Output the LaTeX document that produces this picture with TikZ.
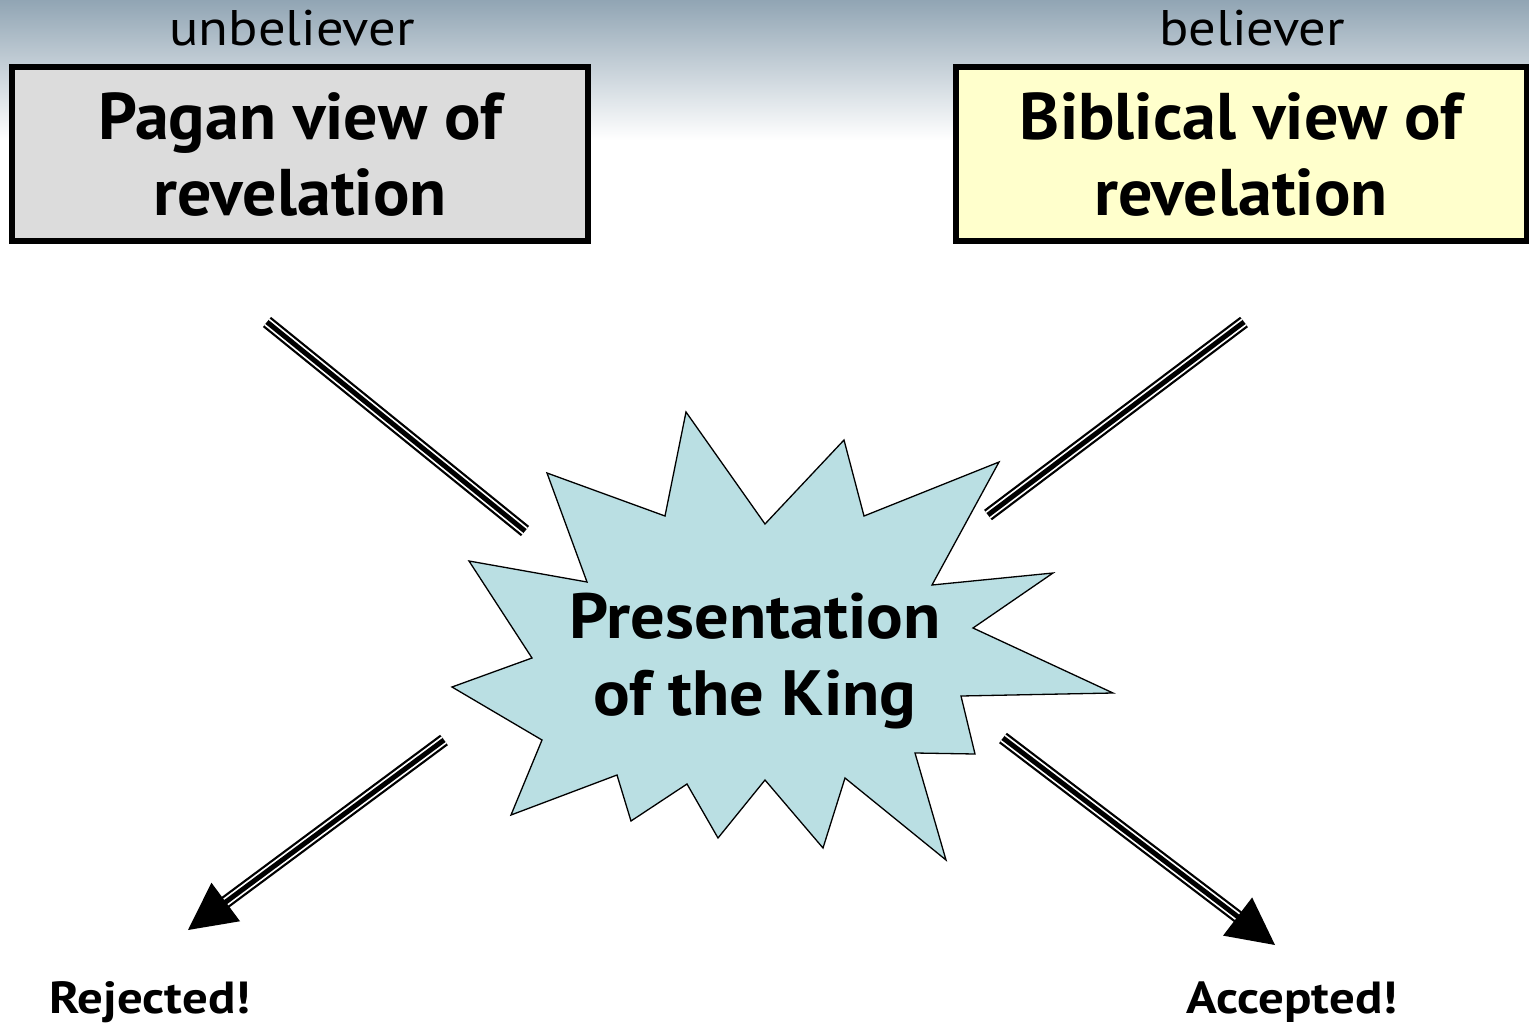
\documentclass[tikz,border=0pt]{standalone}
\usepackage{fontspec}
\setmainfont{PT Sans}
\newfontfamily\boxfont{PT Sans}[FakeStretch=1.03]
\newfontfamily\kingfont{PT Sans}[FakeStretch=1.07]
\newfontfamily\endfont{PT Sans}[FakeStretch=1.13]
\newfontfamily\topfont{PT Sans}[FakeStretch=1.09]
\usetikzlibrary{calc}
\definecolor{bgtop}{RGB}{145,165,180}
\definecolor{pagan}{RGB}{220,220,220}
\definecolor{bibl}{RGB}{255,255,204}
\definecolor{burst}{RGB}{186,223,227}
\tikzset{
  boxstyle/.style={draw=black, line width=6pt, minimum width=576pt, minimum height=174pt,
    align=center, font=\boxfont\fontsize{66}{76}\selectfont\bfseries, inner sep=0pt},
  toplabel/.style={font=\topfont\fontsize{50}{56}\selectfont, inner sep=0pt},
  endlabel/.style={font=\endfont\fontsize{45}{50}\selectfont\bfseries, inner sep=0pt},
  tri/.style={line width=5pt, preaction={draw, line width=13pt, black},
    preaction={draw, line width=8.5pt, white}},
  headfill/.style={fill=black},
}
\begin{document}
\begin{tikzpicture}[x=1pt,y=-1pt]
\useasboundingbox (0,0) rectangle (1529,1027);
\fill[white] (0,0) rectangle (1529,1027);
\shade[top color=bgtop, bottom color=white] (0,0) rectangle (1529,140);

% labels above boxes
\node[toplabel] (unb) at (292,28) {unbeliever};
\node[toplabel] (bel) at (1252,28) {believer};

% boxes
\node[boxstyle, fill=pagan] (pagan) at (300,154) {Pagan view of\\revelation};
\node[boxstyle, fill=bibl, minimum width=571pt] (bib) at (1241,154) {Biblical view of\\revelation};

% starburst
\draw[fill=burst, line width=1.3pt, line join=miter]
  (686,412) -- (765,524) -- (844,440) -- (864,516) -- (999,462) -- (932,585)
  -- (1053,573) -- (973,628) -- (1113,693) -- (961,696) -- (975,754) -- (915,753)
  -- (946,860) -- (845,778) -- (823,848) -- (765,780) -- (718,838) -- (687,784)
  -- (631,821) -- (617,775) -- (511,815) -- (542,740) -- (452,687) -- (532,658)
  -- (469,561) -- (587,582) -- (547,473) -- (665,516) -- cycle;
\node[align=center, inner sep=0pt, font=\kingfont\fontsize{64}{77}\selectfont\bfseries] (king) at (755,661)
  {Presentation\\of the King};

% connector end points
\coordinate (ul1) at (267,322);
\coordinate (ul2) at (525,531);
\coordinate (ur1) at (1244,322);
\coordinate (ur2) at (988,515);
\coordinate (ll1) at (444,740);
\coordinate (lltip) at (188,930);
\coordinate (lr1) at (1003,738);
\coordinate (lrtip) at (1275,945);

\draw[tri] (ul1) -- (ul2);
\draw[tri] (ur1) -- (ur2);

% lower left arrow
\coordinate (llbase) at ($(lltip)!47pt!(ll1)$);
\draw[tri] (ll1) -- ($(lltip)!40pt!(ll1)$);
\fill[headfill] (lltip) -- ($(llbase)!24pt!90:(lltip)$) -- ($(llbase)!24pt!-90:(lltip)$) -- cycle;

% lower right arrow
\coordinate (lrbase) at ($(lrtip)!47pt!(lr1)$);
\draw[tri] (lr1) -- ($(lrtip)!40pt!(lr1)$);
\fill[headfill] (lrtip) -- ($(lrbase)!24pt!90:(lrtip)$) -- ($(lrbase)!24pt!-90:(lrtip)$) -- cycle;

% end labels
\node[endlabel] (rej) at (150,1002) {Rejected!};
\node[endlabel] (acc) at (1292,1002) {Accepted!};
\end{tikzpicture}
\end{document}
